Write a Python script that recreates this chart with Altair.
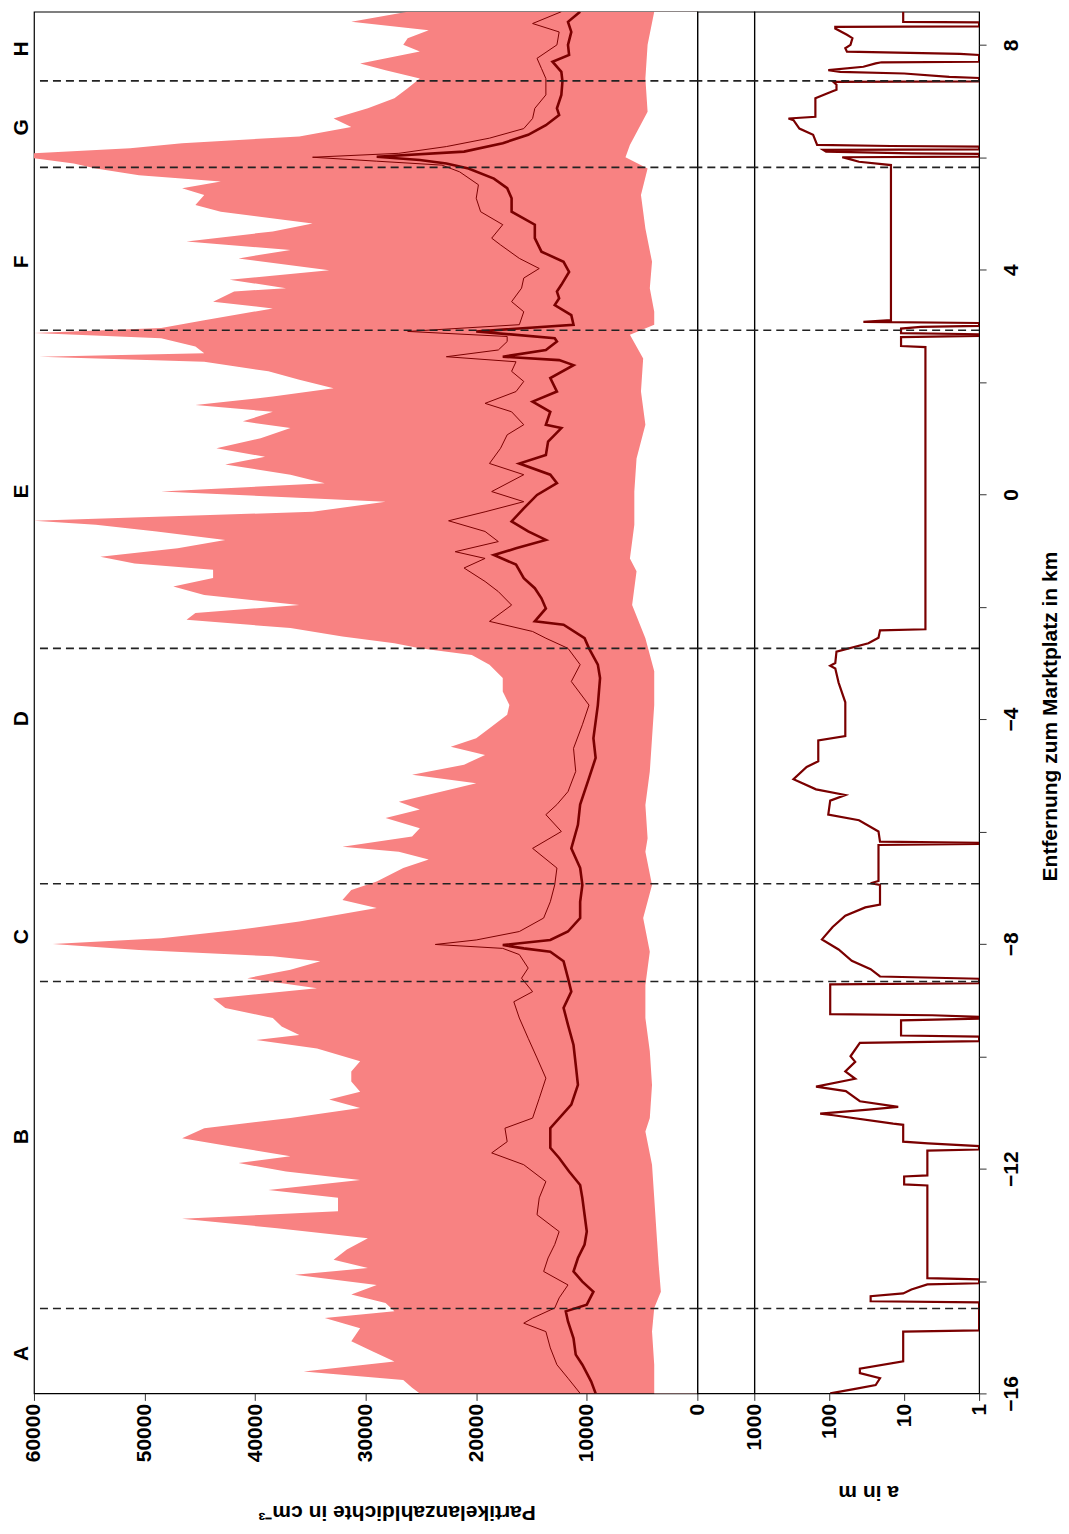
import altair as alt
import pandas as pd

# ---------------- data ----------------
# upper envelope (max) of particle number density, distance in km
max_d = [8.59, 8.41, 8.26, 8.12, 8.00, 7.88, 7.67, 7.55, 7.40, 7.23, 7.05, 6.87, 6.69, 6.54, 6.37,
         6.25, 6.16, 6.07, 5.98, 5.89, 5.80, 5.68, 5.57, 5.45, 5.33, 5.15, 5.03, 4.82, 4.68, 4.50,
         4.35, 4.20, 3.99, 3.82, 3.67, 3.61, 3.43, 3.31, 3.10, 2.96, 2.87, 2.78, 2.63, 2.51, 2.45,
         2.36, 2.19, 2.04, 1.89, 1.74, 1.59, 1.47, 1.30, 1.18, 1.00, 0.82, 0.67, 0.53, 0.35, 0.20,
         0.05, -0.13, -0.31, -0.47, -0.54, -0.66, -0.81, -0.96, -1.11, -1.23, -1.34, -1.49, -1.64,
         -1.79, -1.97, -2.11, -2.23, -2.38, -2.53, -2.65, -2.74, -2.86, -3.03, -3.27, -3.51, -3.75,
         -3.92, -4.16, -4.34, -4.49, -4.64, -4.81, -4.99, -5.14, -5.29, -5.47, -5.61, -5.76, -5.94,
         -6.09, -6.27, -6.36, -6.50, -6.65, -6.89, -7.04, -7.22, -7.36, -7.60, -7.75, -7.90, -8.00,
         -8.11, -8.22, -8.31, -8.46, -8.61, -8.79, -8.97, -9.14, -9.32, -9.47, -9.62, -9.71, -9.86,
         -10.09, -10.27, -10.45, -10.63, -10.77, -10.92, -11.10, -11.28, -11.46, -11.60, -11.78,
         -11.90, -12.05, -12.20, -12.38, -12.52, -12.76, -12.89, -13.06, -13.24, -13.44, -13.62,
         -13.77, -13.89, -14.07, -14.24, -14.39, -14.54, -14.66, -14.84, -15.07, -15.25, -15.43,
         -15.61, -15.76, -15.90, -16.00]
max_v = [26200, 31300, 24300, 26200, 26600, 25100, 30500, 28200, 25100, 26200, 27400, 29800, 32900,
         31300, 36000, 46600, 51300, 60000, 60000, 56400, 54400, 50500, 43100, 46600, 44600, 45400,
         43100, 34800, 38400, 46200, 36800, 41500, 33300, 42300, 37200, 41900, 43800, 38400, 44600,
         48500, 60000, 48500, 45400, 44600, 59500, 44600, 38800, 36000, 32900, 38400, 45400, 38400,
         41100, 36800, 39500, 43500, 39100, 42700, 36800, 33700, 48500, 28200, 34800, 60000, 54400,
         48900, 42700, 47000, 54000, 50900, 43800, 43800, 47400, 44600, 36000, 45400, 46200, 36800,
         32100, 27400, 25100, 20400, 18800, 17600, 17600, 17000, 17200, 18800, 20000, 22300, 19200,
         21100, 25800, 20000, 23100, 27000, 25100, 28200, 25100, 25800, 32100, 27000, 24300, 26600,
         29000, 31300, 32100, 29000, 36000, 41500, 48500, 58300, 50500, 38400, 34100, 36800, 40700,
         34400, 43800, 42700, 38400, 37600, 36000, 39900, 34400, 30500, 31300, 31300, 30500, 33300,
         30500, 36800, 44600, 46600, 42300, 36800, 41500, 37200, 30500, 38800, 32500, 32500, 46600,
         38000, 29800, 31700, 32900, 29800, 36400, 29000, 31300, 28200, 27400, 33700, 30500, 31300,
         29400, 27400, 35600, 26600, 25800, 25100]

# lower envelope (min)
min_d = [8.59, 8.00, 7.40, 6.81, 6.22, 6.00, 5.80, 5.33, 4.73, 4.14, 3.67, 3.25, 3.02, 2.84, 2.42,
         1.83, 1.24, 0.64, 0.05, -0.54, -1.14, -1.37, -1.97, -2.56, -3.15, -3.75, -4.34, -4.93,
         -5.53, -6.12, -6.36, -6.95, -7.54, -8.14, -8.73, -9.32, -9.91, -10.51, -11.10, -11.34,
         -11.93, -12.52, -13.12, -13.71, -14.19, -14.48, -14.90, -15.49, -16.00]
min_v = [3900, 4500, 4700, 4500, 6100, 6500, 4500, 5100, 4700, 4100, 4300, 3900, 3900, 6100, 4900,
         5100, 4700, 5500, 5700, 5700, 6100, 5500, 5900, 4700, 3900, 3900, 4100, 4300, 4700, 4500,
         4700, 4100, 4900, 4300, 4700, 4700, 4300, 4100, 4300, 4700, 4100, 3900, 3700, 3500, 3300,
         3900, 4100, 3900, 3900]

# thin line (mean)
mean_d = [8.59, 8.38, 8.23, 8.00, 7.76, 7.58, 7.40, 7.11, 6.87, 6.69, 6.51, 6.34, 6.19, 6.07, 6.00,
          5.93, 5.86, 5.74, 5.51, 5.27, 5.03, 4.80, 4.56, 4.44, 4.20, 4.02, 3.85, 3.67, 3.43, 3.25,
          3.02, 2.90, 2.81, 2.72, 2.57, 2.45, 2.36, 2.19, 2.01, 1.83, 1.62, 1.47, 1.24, 1.06, 0.82,
          0.55, 0.35, 0.05, -0.13, -0.31, -0.47, -0.66, -0.84, -1.02, -1.14, -1.31, -1.55, -1.73,
          -1.97, -2.26, -2.44, -2.56, -2.74, -3.03, -3.33, -3.75, -4.10, -4.52, -4.93, -5.29, -5.52,
          -5.70, -6.00, -6.30, -6.65, -6.95, -7.25, -7.54, -7.78, -7.93, -8.01, -8.08, -8.19, -8.43,
          -8.61, -8.85, -9.03, -9.32, -9.68, -10.03, -10.39, -10.75, -11.10, -11.28, -11.52, -11.72,
          -11.93, -12.23, -12.52, -12.82, -13.12, -13.35, -13.59, -13.83, -14.07, -14.30, -14.48,
          -14.66, -14.75, -14.90, -15.19, -15.49, -15.73, -16.00]
mean_v = [12300, 14900, 12500, 12700, 14500, 14100, 13700, 13700, 14700, 14900, 15700, 18800, 22700,
          27000, 34800, 29000, 23100, 21500, 19800, 20000, 19600, 17600, 18600, 17800, 16100, 14300,
          15700, 15900, 16800, 15700, 16100, 26200, 17200, 17200, 18000, 22700, 16400, 16800, 15700,
          16400, 19200, 16800, 15700, 17200, 17800, 18800, 15700, 18600, 15700, 19200, 22500, 19200,
          18000, 21900, 19200, 21100, 19200, 18000, 16800, 18800, 14900, 13700, 11700, 10600, 11400,
          9800, 10400, 11200, 11000, 11700, 12700, 13700, 12300, 14900, 12700, 12900, 13300, 13900,
          16100, 20000, 23700, 17600, 16100, 15300, 15900, 14900, 16600, 16100, 15300, 14500, 13700,
          14300, 14900, 17400, 17200, 18600, 15700, 13700, 14300, 14500, 12500, 12900, 13500, 13900,
          11700, 12500, 12900, 14900, 15700, 13700, 13300, 12700, 11700, 10600]

# thick line (median)
med_d = [8.59, 8.41, 8.23, 8.00, 7.82, 7.70, 7.52, 7.35, 7.11, 6.87, 6.75, 6.57, 6.40, 6.25, 6.10,
         6.01, 5.95, 5.89, 5.80, 5.62, 5.45, 5.27, 5.03, 4.80, 4.56, 4.32, 4.14, 3.96, 3.73, 3.61,
         3.49, 3.37, 3.19, 3.02, 2.90, 2.78, 2.72, 2.57, 2.45, 2.39, 2.30, 2.07, 1.83, 1.65, 1.47,
         1.24, 1.18, 0.94, 0.70, 0.55, 0.35, 0.20, -0.01, -0.25, -0.48, -0.66, -0.81, -0.96, -1.08,
         -1.25, -1.49, -1.67, -1.85, -2.03, -2.26, -2.32, -2.56, -2.74, -3.03, -3.27, -3.75, -4.34,
         -4.69, -5.05, -5.52, -5.88, -6.30, -6.65, -6.95, -7.25, -7.54, -7.78, -7.93, -8.02, -8.08,
         -8.14, -8.31, -8.61, -8.85, -9.14, -9.44, -9.80, -10.15, -10.51, -10.86, -11.28, -11.63,
         -11.81, -12.05, -12.29, -12.52, -12.82, -13.12, -13.35, -13.59, -13.83, -14.01, -14.19,
         -14.42, -14.54, -14.72, -15.02, -15.31, -15.49, -15.79, -16.00]
med_v = [10600, 11700, 11400, 11700, 11600, 13100, 12300, 12200, 12300, 12700, 12500, 13700, 15300,
         17600, 21100, 29000, 25100, 22700, 20700, 18400, 17200, 16800, 16800, 14700, 14700, 14100,
         12100, 11600, 12300, 12700, 12500, 12900, 11400, 11200, 20000, 12900, 12700, 13700, 17600,
         12500, 11200, 13300, 12700, 14900, 13300, 13700, 12300, 13500, 13700, 16100, 13300, 12700,
         14500, 15700, 16800, 15300, 13700, 16400, 18400, 16400, 15700, 14700, 14100, 13700, 14700,
         12100, 10200, 9800, 9000, 8800, 9000, 9400, 9200, 9800, 10600, 10800, 11400, 10600, 10400,
         10600, 10600, 11700, 13300, 17600, 15700, 13300, 12100, 11700, 11400, 12100, 11700, 11200,
         11000, 10800, 11400, 13300, 13300, 12500, 11600, 10600, 10400, 10200, 10000, 10200, 10800,
         11200, 10400, 9400, 10000, 11900, 11700, 11200, 11000, 10400, 9600, 9200]

# a in m (right panel), in path order
a_d = [8.59, 8.41, 8.40, 8.33, 8.32, 8.29, 8.18, 8.12, 8.00, 7.94, 7.88, 7.84, 7.82, 7.70, 7.69,
       7.67, 7.61, 7.55, 7.52, 7.49, 7.43, 7.41, 7.35, 7.34, 7.29, 7.20, 7.17, 7.05, 6.72, 6.69,
       6.66, 6.51, 6.40, 6.22, 6.20, 6.19, 6.14, 6.13, 6.10, 6.07, 6.06, 6.01, 6.00, 5.97, 5.92,
       5.86, 3.10, 3.07, 3.05, 3.00, 2.98, 2.95, 2.87, 2.85, 2.82, 2.80, 2.64, 2.62, -2.40, -2.42,
       -2.55, -2.65, -2.80, -3.00, -3.05, -3.10, -3.35, -3.70, -4.30, -4.38, -4.75, -4.85, -5.07,
       -5.25, -5.35, -5.45, -5.70, -5.80, -6.00, -6.18, -6.20, -6.22, -6.24, -6.88, -6.92, -6.95,
       -7.30, -7.35, -7.50, -7.70, -7.92, -8.10, -8.30, -8.45, -8.58, -8.62, -8.70, -8.72, -9.25,
       -9.27, -9.30, -9.33, -9.36, -9.63, -9.65, -9.73, -9.76, -10.00, -10.10, -10.27, -10.40,
       -10.54, -10.62, -10.80, -10.90, -10.95, -11.02, -11.05, -11.20, -11.22, -11.52, -11.55,
       -11.60, -11.66, -11.68, -12.12, -12.14, -12.28, -12.30, -13.95, -13.97, -14.04, -14.06,
       -14.15, -14.22, -14.27, -14.36, -14.38, -14.88, -14.90, -15.43, -15.56, -15.64, -15.73,
       -15.85, -15.92, -16.00]
a_v = [10.3, 10.3, 1, 1, 83, 83, 58, 49, 52, 61, 58, 1.8, 1, 1, 20, 24, 35, 103, 71, 10, 2.5, 1, 1,
       88, 80, 80, 92, 153, 153, 350, 300, 250, 164, 145, 15, 1, 1, 120, 110, 8, 1, 1, 67, 55, 40,
       15, 15, 35, 1, 1, 6, 11, 11, 1, 1, 11, 11, 5.2, 5.2, 21, 22, 30, 80, 83, 97, 83, 75, 61, 61,
       140, 140, 200, 300, 150, 61, 97, 103, 40, 22, 21, 1, 1, 22, 22, 28, 21, 21, 33, 61, 90, 125,
       75, 50, 28, 21, 1, 1, 97, 97, 4.2, 1, 1, 11, 11, 1, 1, 39, 52, 45, 61, 45, 150, 60, 39, 12,
       30, 132, 88, 14, 10.3, 10.3, 4.8, 1, 1, 4.9, 4.9, 10, 10, 4.9, 4.9, 1, 1, 4.9, 8, 10.3, 28,
       28, 1, 1, 10.3, 10.3, 39, 39, 21, 24, 45, 97]

# segment boundaries and labels
bound_d = [7.36, 5.82, 2.92, -2.74, -6.93, -8.67, -14.49]
seg_labels = ["H", "G", "F", "E", "D", "C", "B", "A"]
seg_d = [7.93, 6.53, 4.14, 0.05, -3.99, -7.87, -11.43, -15.29]

dens_ticks = [0, 10000, 20000, 30000, 40000, 50000, 60000]
a_ticks = [1, 10, 100, 1000]
dist_ticks = list(range(-16, 9, 2))

# ---------------- chart ----------------
FONT = "Liberation Sans"
FILL = "#F88282"
DARK = "#7A0000"
H = 1383

max_df = pd.DataFrame({"d": max_d, "v": max_v})
min_df = pd.DataFrame({"d": min_d, "v": min_v})
mean_df = pd.DataFrame({"d": mean_d, "v": mean_v})
med_df = pd.DataFrame({"d": med_d, "v": med_v})
a_df = pd.DataFrame({"d": a_d, "a": a_v, "i": list(range(len(a_d)))})
b_df = pd.DataFrame({"d": bound_d})
lab_df = pd.DataFrame({"d": seg_d, "t": seg_labels})

yscale = alt.Scale(domain=[-16, 8.59], nice=False, zero=False)
y_noax = alt.Y("d:Q", scale=yscale, axis=None)
dscale = alt.Scale(domain=[0, 60000], reverse=True, nice=False, zero=False)

dens_axis = alt.Axis(values=dens_ticks, format="d", labelAngle=270, labelAlign="right",
                     labelBaseline="middle", grid=False, domain=False, tickSize=7, labelPadding=3,
                     title="Partikelanzahldichte in cm⁻³", titleAngle=180, titleAlign="center",
                     titleBaseline="middle", titleX=363, titleY=118)
x_dens = alt.X("v:Q", scale=dscale, stack=None, axis=dens_axis)

pink = alt.Chart(max_df).mark_area(orient="horizontal", color=FILL, clip=True).encode(
    x=x_dens, y=y_noax)
white = alt.Chart(min_df).mark_area(orient="horizontal", color="white", clip=True).encode(
    x=x_dens, y=y_noax)
thin = alt.Chart(mean_df).mark_line(color=DARK, strokeWidth=1, clip=True).encode(
    x=x_dens, y=y_noax, order=alt.Order("d:Q", sort="descending"))
thick = alt.Chart(med_df).mark_line(color=DARK, strokeWidth=2.6, clip=True).encode(
    x=x_dens, y=y_noax, order=alt.Order("d:Q", sort="descending"))
dash = alt.Chart(b_df).mark_rule(color="#222222", strokeWidth=1.6, strokeDash=[8, 5]).encode(
    y=y_noax)
letters = alt.Chart(lab_df).mark_text(angle=270, font=FONT, fontSize=21, fontWeight="bold",
                                      align="center", baseline="middle", color="black").encode(
    x=alt.value(-12), y=y_noax, text="t:N")

dens_panel = alt.layer(pink, white, thin, thick, dash, letters).properties(width=664, height=H)

gap_panel = alt.Chart(b_df).mark_rule(color="#222222", strokeWidth=1.6, strokeDash=[8, 5]).encode(
    y=y_noax).properties(width=57, height=H)

y_right = alt.Y(
    "d:Q", scale=yscale,
    axis=alt.Axis(orient="right", values=dist_ticks,
                  labelExpr="datum.value % 4 == 0 ? datum.label : ''",
                  labelAngle=270, labelAlign="center", labelBaseline="top", grid=False,
                  domain=False, tickSize=7, labelPadding=14,
                  title="Entfernung zum Marktplatz in km", titleAngle=270, titleAlign="center",
                  titleBaseline="middle", titleX=71, titleY=705),
)
x_a = alt.X(
    "a:Q", scale=alt.Scale(type="log", domain=[1, 1000], reverse=True, nice=False),
    axis=alt.Axis(values=a_ticks, format="d", labelAngle=270, labelAlign="right",
                  labelBaseline="middle", grid=False, domain=False, tickSize=7, labelPadding=3,
                  title="a in m", titleAngle=180, titleAlign="center", titleBaseline="middle",
                  titleX=114, titleY=98),
)
aline = alt.Chart(a_df).mark_line(color=DARK, strokeWidth=2.2, clip=True).encode(
    x=x_a, y=y_right, order=alt.Order("i:Q"))
adash = alt.Chart(b_df).mark_rule(color="#222222", strokeWidth=1.6, strokeDash=[8, 5]).encode(
    y=y_right)
a_panel = alt.layer(aline, adash).properties(width=225, height=H)

chart = alt.hconcat(dens_panel, gap_panel, a_panel, spacing=0, bounds="flush").properties(
    padding={"left": 2, "top": 2, "right": 0, "bottom": 0}
).configure_view(stroke="black", strokeWidth=1.2).configure_axis(
    labelFont=FONT, labelFontSize=21, labelFontWeight="bold", labelColor="black",
    titleFont=FONT, titleFontSize=21, titleFontWeight="bold", titleColor="black",
    tickColor="#333333", tickWidth=1,
)

chart.save("out.html", embed_options={"renderer": "svg", "actions": False})
